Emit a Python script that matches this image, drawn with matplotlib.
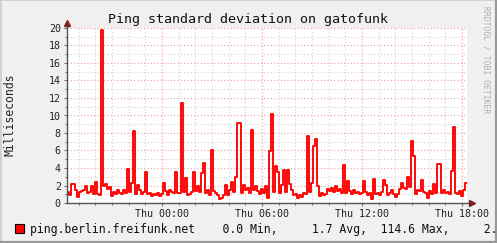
import matplotlib
matplotlib.use("Agg")
import matplotlib.pyplot as plt
import numpy as np
from matplotlib.patches import Rectangle
from matplotlib.lines import Line2D

# ping standard deviation, milliseconds, one sample per 0.12 h starting 5.7 h before Thu 00:00
start_hour = -5.7
step_hours = 0.12
stddev_ms = [
    1.3, 0.9, 2.2, 2.2, 1.5, 0.7, 1.3, 1.4, 1.5, 2.0,
    1.2, 1.3, 1.9, 1.0, 2.4, 1.0, 0.9, 19.8, 1.9, 2.2,
    1.6, 1.8, 0.8, 1.3, 1.0, 1.5, 1.2, 1.0, 1.5, 1.2,
    3.9, 1.3, 2.3, 8.2, 1.0, 2.1, 1.5, 1.0, 1.3, 3.5,
    1.0, 1.1, 0.8, 1.0, 0.9, 1.1, 0.8, 1.0, 2.3, 1.4,
    0.9, 1.5, 1.3, 1.2, 3.6, 1.2, 1.1, 11.4, 1.3, 2.9,
    0.9, 1.0, 1.3, 3.5, 1.4, 2.0, 1.3, 3.4, 4.6, 1.2,
    1.5, 0.9, 6.1, 1.4, 1.2, 0.9, 0.5, 0.6, 0.9, 2.1,
    0.9, 1.5, 2.4, 1.3, 3.0, 9.1, 9.1, 1.2, 2.1, 1.5,
    1.7, 1.2, 8.3, 1.5, 1.9, 1.4, 1.0, 1.6, 1.2, 1.9,
    0.6, 5.9, 10.2, 1.3, 4.2, 3.5, 1.1, 2.1, 3.8, 1.3,
    3.8, 2.2, 1.5, 0.9, 1.0, 0.6, 0.9, 0.7, 1.2, 1.0,
    7.7, 1.3, 2.3, 6.5, 7.3, 2.0, 0.8, 1.1, 0.9, 1.0,
    1.6, 1.4, 1.7, 1.3, 2.0, 1.4, 1.6, 1.1, 4.3, 1.2,
    2.5, 1.4, 1.0, 1.5, 1.2, 1.3, 1.0, 1.1, 2.5, 1.3,
    0.9, 1.2, 0.5, 2.7, 1.0, 1.1, 0.9, 1.3, 2.6, 2.1,
    0.9, 1.2, 1.5, 1.0, 0.7, 1.0, 1.6, 2.3, 1.7, 1.6,
    3.0, 1.8, 7.1, 5.4, 1.0, 1.5, 1.4, 2.6, 1.3, 1.2,
    0.6, 1.4, 1.0, 2.2, 1.1, 4.4, 4.4, 1.1, 1.5, 1.2,
    1.3, 1.0, 3.7, 8.7, 1.2, 1.0, 1.4, 0.8, 1.5, 2.3,
]
x_ticks = [0, 6, 12, 18]
x_labels = ["Thu 00:00", "Thu 06:00", "Thu 12:00", "Thu 18:00"]
y_ticks = list(range(0, 21, 2))
legend_line = "ping.berlin.freifunk.net    0.0 Min,     1.7 Avg,  114.6 Max,     2."

mono = "DejaVu Sans Mono"
W, H = 497, 243

hours = start_hour + step_hours * np.arange(len(stddev_ms) + 1)
values = stddev_ms + [stddev_ms[-1]]

fig = plt.figure(figsize=(W / 100, H / 100), dpi=100, facecolor="#F0F0F0")
ax = fig.add_axes([67 / W, 40 / H, 400 / W, 175 / H], facecolor="white")

ax.step(hours, values, where="post", color="#FF0000", lw=1.35, zorder=3)

ax.set_xlim(start_hour, start_hour + 24)
ax.set_ylim(0, 20)

ax.set_xticks(x_ticks)
ax.set_xticklabels(x_labels)
ax.set_xticks(np.arange(-5, 19), minor=True)
ax.set_yticks(y_ticks)
ax.set_yticklabels([str(v) for v in y_ticks])
ax.set_yticks(np.arange(0, 21), minor=True)

ax.set_axisbelow(True)
ax.grid(which="minor", color="#D0D0D0", ls=(0, (1, 2)), lw=0.8)
ax.grid(which="major", color="#E6A0A0", ls=(0, (1, 2)), lw=0.8)

for s in ax.spines.values():
    s.set_visible(False)

ax.tick_params(which="both", direction="out", color="#666666", width=0.7)
ax.tick_params(which="major", length=2.5, pad=2, labelsize=7.2, labelcolor="#222222")
ax.tick_params(which="minor", length=1.5)
for lab in ax.get_xticklabels() + ax.get_yticklabels():
    lab.set_family(mono)

# axis lines with arrow heads
ax.plot([0, 1.01], [0, 0], transform=ax.transAxes, color="#555555", lw=1.0, clip_on=False, zorder=5)
ax.plot([0, 0], [0, 1.025], transform=ax.transAxes, color="#555555", lw=1.0, clip_on=False, zorder=5)
ax.plot([1.012], [0], transform=ax.transAxes, marker=">", ms=4, color="#802020", clip_on=False, zorder=6)
ax.plot([0], [1.03], transform=ax.transAxes, marker="^", ms=4, color="#802020", clip_on=False, zorder=6)

fig.text(248 / W, 1 - 19 / H, "Ping standard deviation on gatofunk",
         family=mono, fontsize=9.6, ha="center", va="center", color="#111111")
fig.text(10 / W, 1 - 115 / H, "Milliseconds", family=mono, fontsize=8.3,
         rotation=90, ha="center", va="center", color="#222222")
fig.text(486 / W, 1 - 60 / H, "RRDTOOL / TOBI OETIKER", family=mono, fontsize=5.8,
         rotation=270, ha="center", va="center", color="#B0B0B0")

fig.add_artist(Rectangle((15 / W, 1 - 233 / H), 9 / W, 9 / H, transform=fig.transFigure,
                         facecolor="#FF0000", edgecolor="black", lw=0.8))
fig.text(30 / W, 1 - 229 / H, legend_line, family=mono, fontsize=8.3,
         ha="left", va="center", color="#111111")

# 3d frame
fig.add_artist(Line2D([0, 1], [1 - 0.5 / H, 1 - 0.5 / H], transform=fig.transFigure, color="#CBCBCB", lw=1.2))
fig.add_artist(Line2D([0.5 / W, 0.5 / W], [0, 1], transform=fig.transFigure, color="#CBCBCB", lw=1.2))
fig.add_artist(Line2D([0, 1], [1 / H, 1 / H], transform=fig.transFigure, color="#999999", lw=1.6))
fig.add_artist(Line2D([1 - 1 / W, 1 - 1 / W], [0, 1], transform=fig.transFigure, color="#999999", lw=1.6))

fig.savefig("out.png", dpi=100, facecolor=fig.get_facecolor())
